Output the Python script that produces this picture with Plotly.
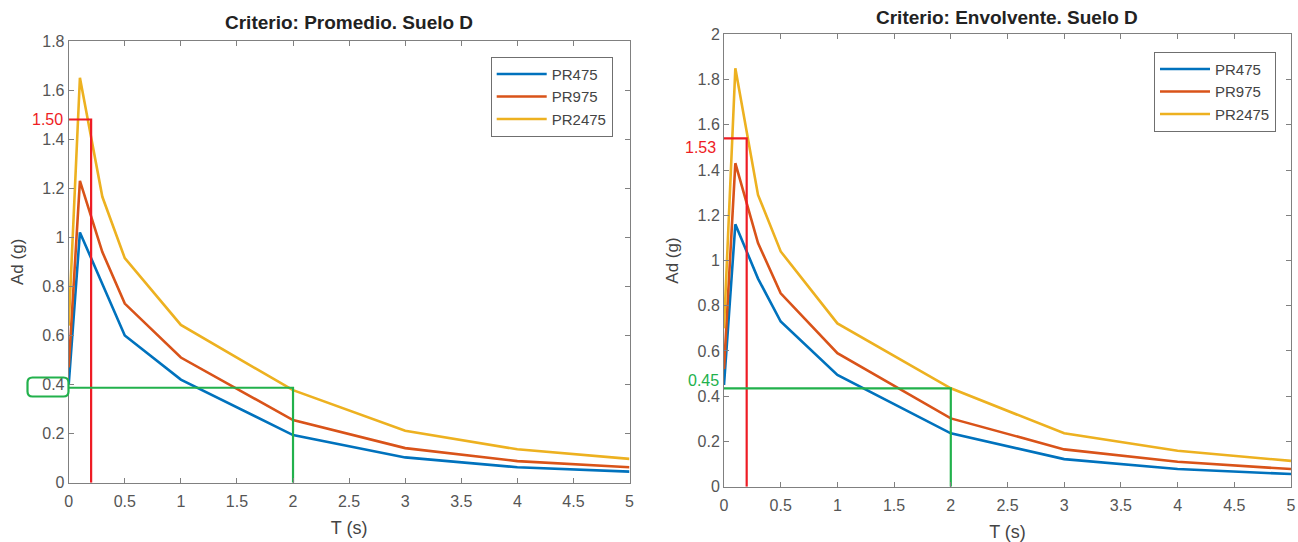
import plotly.graph_objects as go

# ---------------- data ----------------
T = [0, 0.1, 0.3, 0.5, 1, 2, 3, 4, 5]
series_names = ["PR475", "PR975", "PR2475"]

# Left panel: Criterio Promedio, Suelo D
prom_pr475 = [0.40, 1.02, 0.81, 0.60, 0.42, 0.194, 0.103, 0.063, 0.045]
prom_pr975 = [0.47, 1.23, 0.94, 0.73, 0.51, 0.255, 0.141, 0.088, 0.063]
prom_pr2475 = [0.64, 1.65, 1.165, 0.915, 0.643, 0.377, 0.212, 0.136, 0.097]

# Right panel: Criterio Envolvente, Suelo D
env_pr475 = [0.45, 1.16, 0.92, 0.73, 0.494, 0.236, 0.122, 0.078, 0.056]
env_pr975 = [0.52, 1.43, 1.077, 0.855, 0.59, 0.302, 0.165, 0.11, 0.078]
env_pr2475 = [0.70, 1.85, 1.29, 1.04, 0.722, 0.435, 0.236, 0.159, 0.114]

# Reference markers
prom_red_x = [0, 0.2, 0.2]
prom_red_y = [1.48, 1.48, 0]
prom_green_x = [0, 2, 2]
prom_green_y = [0.387, 0.387, 0]
env_red_x = [-0.04, 0.2, 0.2]
env_red_y = [1.54, 1.54, 0]
env_green_x = [0, 2, 2]
env_green_y = [0.435, 0.435, 0]

x_ticks = [0, 0.5, 1, 1.5, 2, 2.5, 3, 3.5, 4, 4.5, 5]
x_tick_text = ["0", "0.5", "1", "1.5", "2", "2.5", "3", "3.5", "4", "4.5", "5"]
yl_ticks = [0, 0.2, 0.4, 0.6, 0.8, 1, 1.2, 1.4, 1.6, 1.8]
yl_tick_text = ["0", "0.2", "0.4", "0.6", "0.8", "1", "1.2", "1.4", "1.6", "1.8"]
yr_ticks = [0, 0.2, 0.4, 0.6, 0.8, 1, 1.2, 1.4, 1.6, 1.8, 2]
yr_tick_text = ["0", "0.2", "0.4", "0.6", "0.8", "1", "1.2", "1.4", "1.6", "1.8", "2"]

# ---------------- style ----------------
W, H = 1298, 542
colors = ["#0072BD", "#D95319", "#EDB120"]
RED = "#ee1c24"
GREEN = "#22b14c"
FONT = "Liberation Sans, Arial, sans-serif"
AXC = "#808080"
TXT = "#555555"

left_dom_x = [68.7 / W, 629.5 / W]
left_dom_y = [1 - 482.7 / H, 1 - 41 / H]
right_dom_x = [724 / W, 1291 / W]
right_dom_y = [1 - 486.7 / H, 1 - 34.3 / H]

fig = go.Figure()

left_data = [prom_pr475, prom_pr975, prom_pr2475]
right_data = [env_pr475, env_pr975, env_pr2475]
for name, ys, c in zip(series_names, left_data, colors):
    fig.add_trace(go.Scatter(x=T, y=ys, name=name, mode="lines",
                             line=dict(color=c, width=2.6),
                             xaxis="x", yaxis="y", legend="legend"))
for name, ys, c in zip(series_names, right_data, colors):
    fig.add_trace(go.Scatter(x=T, y=ys, name=name, mode="lines",
                             line=dict(color=c, width=2.6),
                             xaxis="x2", yaxis="y2", legend="legend2"))

# reference lines
for xs, ys, c, xa, ya in [
    (prom_red_x, prom_red_y, RED, "x", "y"),
    (prom_green_x, prom_green_y, GREEN, "x", "y"),
    (env_red_x, env_red_y, RED, "x2", "y2"),
    (env_green_x, env_green_y, GREEN, "x2", "y2"),
]:
    fig.add_trace(go.Scatter(x=xs, y=ys, mode="lines", showlegend=False,
                             line=dict(color=c, width=2.2), cliponaxis=False,
                             xaxis=xa, yaxis=ya, hoverinfo="skip"))

axis_common = dict(showline=True, linecolor=AXC, linewidth=1, mirror="ticks",
                   ticks="inside", ticklen=5, tickcolor=AXC, tickwidth=1,
                   showgrid=False, zeroline=False, automargin=False,
                   tickfont=dict(family=FONT, size=16, color=TXT))

xtitle = dict(text="T (s)", font=dict(family=FONT, size=18, color="#444"), standoff=12)
ytitle = dict(text="Ad (g)", font=dict(family=FONT, size=17, color="#444"), standoff=14)

legend_common = dict(xanchor="right", yanchor="top", bgcolor="white",
                     bordercolor="#6f6f6f", borderwidth=1,
                     font=dict(family=FONT, size=15, color="#444"), itemwidth=50)

fig.update_layout(
    width=W, height=H,
    margin=dict(l=0, r=0, t=0, b=0),
    paper_bgcolor="white", plot_bgcolor="white",
    xaxis=dict(domain=left_dom_x, range=[0, 5], tickvals=x_ticks, ticktext=x_tick_text,
               anchor="y", title=xtitle, ticklabelstandoff=4, **axis_common),
    yaxis=dict(domain=left_dom_y, range=[0, 1.8], tickvals=yl_ticks, ticktext=yl_tick_text,
               anchor="x", title=ytitle, **axis_common),
    xaxis2=dict(domain=right_dom_x, range=[0, 5], tickvals=x_ticks, ticktext=x_tick_text,
                anchor="y2", title=xtitle, ticklabelstandoff=4, **axis_common),
    yaxis2=dict(domain=right_dom_y, range=[0, 2], tickvals=yr_ticks, ticktext=yr_tick_text,
                anchor="x2", title=ytitle, **axis_common),
    legend=dict(x=612.7 / W, y=1 - 56.7 / H, **legend_common),
    legend2=dict(x=1276 / W, y=1 - 51.7 / H, **legend_common),
    showlegend=True,
)

# titles
fig.add_annotation(text="<b>Criterio: Promedio. Suelo D</b>", xref="paper", yref="paper",
                   x=sum(left_dom_x) / 2, y=1 - 23 / H, showarrow=False,
                   font=dict(family=FONT, size=19, color="#222"), xanchor="center", yanchor="middle")
fig.add_annotation(text="<b>Criterio: Envolvente. Suelo D</b>", xref="paper", yref="paper",
                   x=sum(right_dom_x) / 2, y=1 - 18 / H, showarrow=False,
                   font=dict(family=FONT, size=19, color="#222"), xanchor="center", yanchor="middle")

# value labels
fig.add_annotation(text="1.50", xref="paper", yref="y", x=65 / W, y=prom_red_y[0],
                   showarrow=False, xanchor="right", yanchor="middle",
                   font=dict(family=FONT, size=16, color=RED))
fig.add_annotation(text="1.53", xref="paper", yref="y2", x=718 / W, y=1.50,
                   showarrow=False, xanchor="right", yanchor="middle",
                   font=dict(family=FONT, size=16, color=RED))
fig.add_annotation(text="0.45", xref="paper", yref="y2", x=721 / W, y=0.47,
                   showarrow=False, xanchor="right", yanchor="middle",
                   font=dict(family=FONT, size=16, color=GREEN))

# rounded green box around the 0.4 tick label (left panel)
def px(xp):
    return xp / W

def py(yp):
    return 1 - yp / H

x0, x1, y0, y1, r = 27.5, 68.5, 377.5, 396.5, 5
path = (f"M {px(x0 + r)},{py(y0)} L {px(x1 - r)},{py(y0)} "
        f"Q {px(x1)},{py(y0)} {px(x1)},{py(y0 + r)} "
        f"L {px(x1)},{py(y1 - r)} Q {px(x1)},{py(y1)} {px(x1 - r)},{py(y1)} "
        f"L {px(x0 + r)},{py(y1)} Q {px(x0)},{py(y1)} {px(x0)},{py(y1 - r)} "
        f"L {px(x0)},{py(y0 + r)} Q {px(x0)},{py(y0)} {px(x0 + r)},{py(y0)} Z")
fig.add_shape(type="path", path=path, xref="paper", yref="paper",
              line=dict(color=GREEN, width=2.2), fillcolor="rgba(0,0,0,0)")

fig.write_html("out.html")
